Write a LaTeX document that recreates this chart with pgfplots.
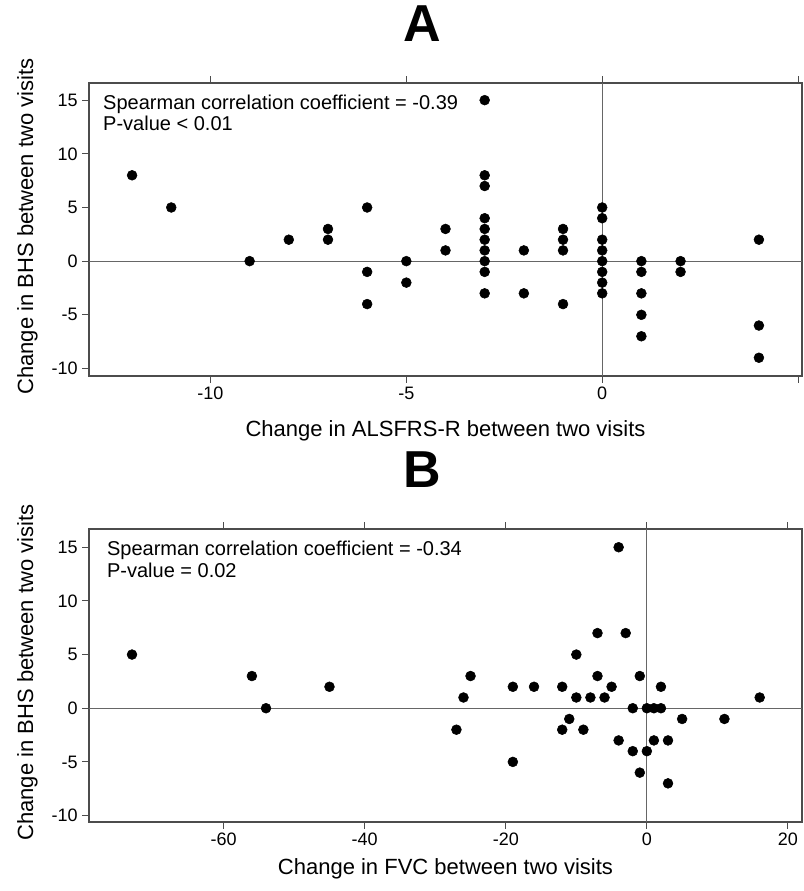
\documentclass[border=0pt]{standalone}
\usepackage{fontspec}
\setmainfont{Liberation Sans}
\usepackage{pgfplots}
\pgfplotsset{compat=1.18}

% one scatter panel, R base-graphics look
\pgfplotsset{
  panel/.style={
    scale only axis, width=534.75pt, height=219.75pt,
    anchor=south west,
    axis line style={draw=black!70, line width=0.9pt},
    xtick pos=both, ytick pos=left, tick align=outside,
    major tick length=5pt,
    tick style={draw=black!70, line width=0.8pt},
    ytick={-10,-5,0,5,10,15},
    /pgf/number format/assume math mode=true,
    ticklabel style={font=\fontsize{13.5}{15}\selectfont},
    label style={font=\fontsize{16.5}{19}\selectfont},
    ylabel={Change in BHS between two visits},
    ylabel style={at={(axis description cs:-0.0785,0.51)}, anchor=base},
    title style={at={(axis description cs:0.467,1.115)}, anchor=base,
      font=\fontsize{39}{40}\selectfont\bfseries},
    clip=false,
  },
  dots/.style={only marks, mark=*, mark size=3.7pt, black},
  zero/.style={no marks, draw=black!60, line width=0.8pt},
}
\tikzset{note/.style={anchor=base west, inner sep=0pt, font=\fontsize{15}{18}\selectfont}}

\begin{document}
\begin{tikzpicture}
\useasboundingbox (0,0) rectangle (602.25pt,668.25pt);

% ---- A ----
\begin{axis}[panel, at={(66.75pt,386.25pt)},
  xmin=-13.1, xmax=5.1, ymin=-10.7, ymax=16.6,
  xtick={-10,-5,0,5},
  xticklabels={-10,-5,0,{}},
  title={A},
  xlabel={Change in ALSFRS-R between two visits},
  xlabel style={at={(axis description cs:0.5,-0.205)}, anchor=base},
]
\addplot[zero] coordinates {(-13.1,0) (5.1,0)};
\addplot[zero] coordinates {(0,-10.7) (0,16.6)};
\addplot[dots] coordinates {
  (-12,8) (-11,5) (-9,0) (-8,2) (-7,3) (-7,2)
  (-6,5) (-6,-1) (-6,-4) (-5,0) (-5,-2) (-4,3) (-4,1)
  (-3,15) (-3,8) (-3,7) (-3,4) (-3,3) (-3,2) (-3,1) (-3,0) (-3,-1) (-3,-3)
  (-2,1) (-2,-3) (-1,3) (-1,2) (-1,1) (-1,-4)
  (0,5) (0,4) (0,2) (0,1) (0,0) (0,-1) (0,-2) (0,-3)
  (1,0) (1,-1) (1,-3) (1,-5) (1,-7) (2,0) (2,-1)
  (4,2) (4,-6) (4,-9)
};
\node[note] at (axis description cs:0.0196,0.911) {Spearman correlation coefficient = -0.39};
\node[note] at (axis description cs:0.0196,0.839) {P-value < 0.01};
\end{axis}

% ---- B ----
\begin{axis}[panel, at={(66.75pt,51.75pt)},
  xmin=-79.1, xmax=22, ymin=-10.6, ymax=16.7,
  xtick={-60,-40,-20,0,20},
  title={B},
  xlabel={Change in FVC between two visits},
  xlabel style={at={(axis description cs:0.5,-0.18)}, anchor=base},
]
\addplot[zero] coordinates {(-79.1,0) (22,0)};
\addplot[zero] coordinates {(0,-10.6) (0,16.7)};
\addplot[dots] coordinates {
  (-73,5) (-56,3) (-54,0) (-45,2)
  (-27,-2) (-26,1) (-25,3) (-19,2) (-19,-5) (-16,2)
  (-12,2) (-12,-2) (-11,-1) (-10,5) (-10,1) (-9,-2) (-8,1)
  (-7,7) (-7,3) (-6,1) (-5,2) (-4,15) (-4,-3) (-3,7)
  (-2,0) (-2,-4) (-1,3) (-1,-6)
  (0,0) (0,-4) (1,0) (1,-3) (2,2) (2,0) (3,-3) (3,-7)
  (5,-1) (11,-1) (16,1)
};
\node[note] at (axis description cs:0.025,0.911) {Spearman correlation coefficient = -0.34};
\node[note] at (axis description cs:0.025,0.836) {P-value = 0.02};
\end{axis}
\end{tikzpicture}
\end{document}
